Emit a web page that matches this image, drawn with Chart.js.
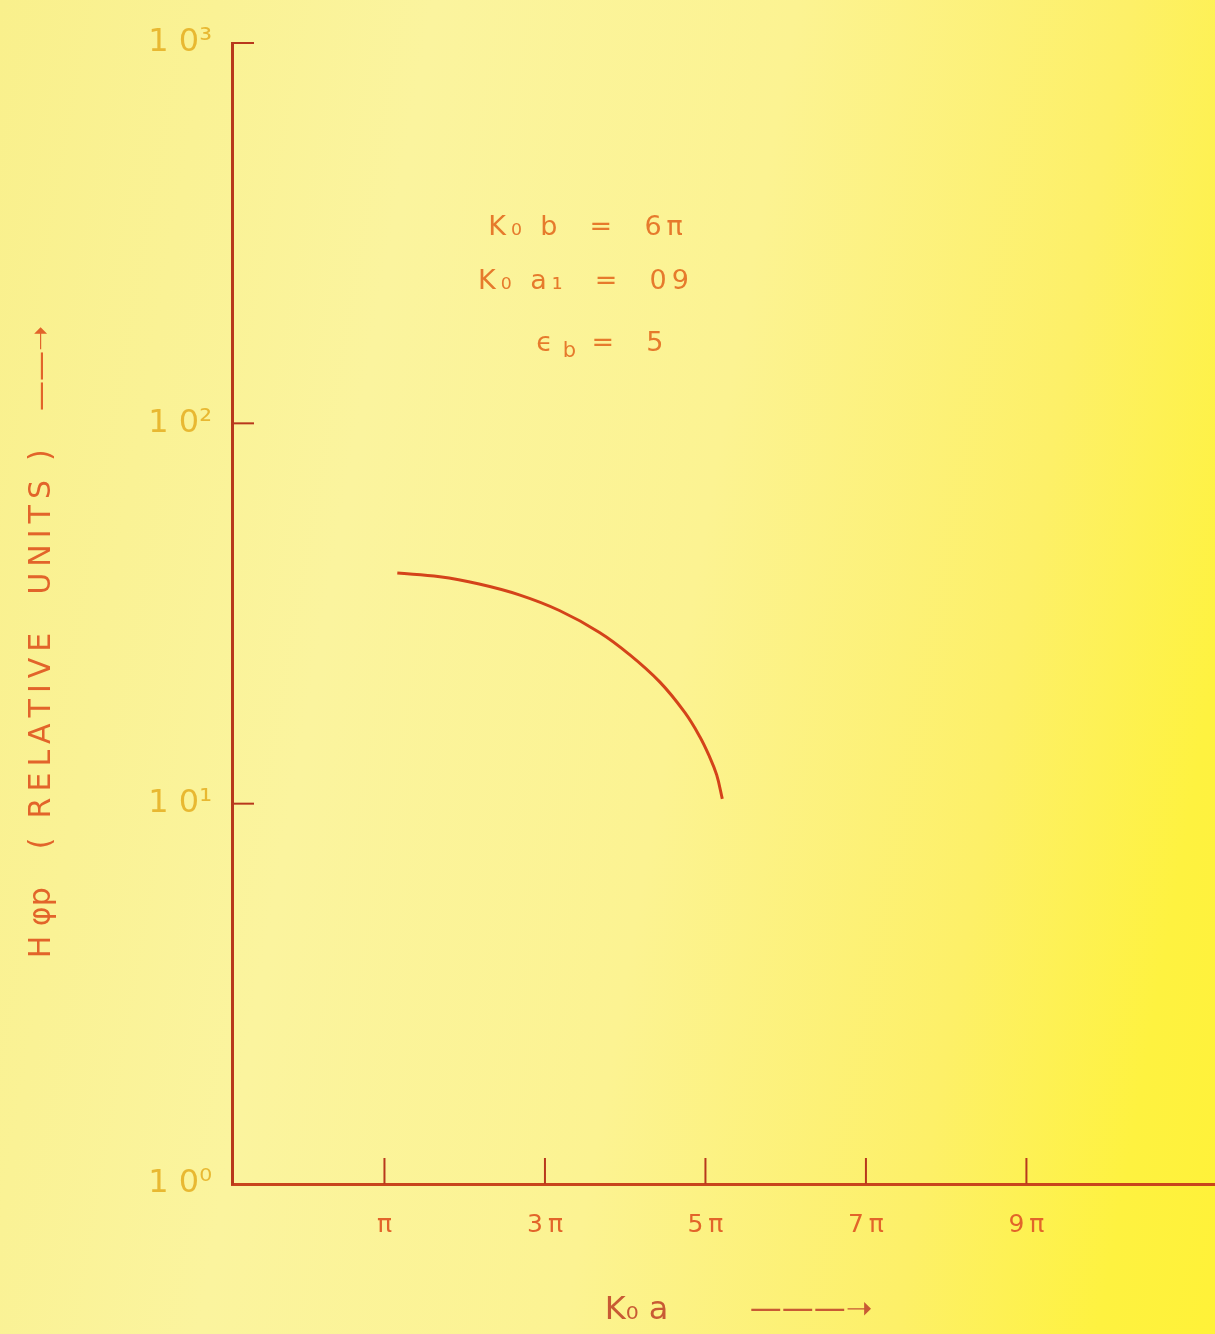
<!DOCTYPE html>
<html>
<head>
<meta charset="utf-8">
<script src="https://cdn.jsdelivr.net/npm/chart.js@4.4.1/dist/chart.umd.min.js"></script>
<style>
html,body{margin:0;padding:0;}
body{
width:1215px;height:1334px;overflow:hidden;
background:linear-gradient(100deg,#f9f08c 0%,#fbf49e 30%,#fcf392 55%,#fdf068 78%,#fef240 92%,#fff238 100%);
}
#wrap{position:relative;width:1215px;height:1334px;}
</style>
</head>
<body>
<div id="wrap"><canvas id="chart" width="1215" height="1334"></canvas></div>
<script>

// values (x in units of pi)
const kaValues = [1.16,1.69,2.18,2.68,3.18,3.68,4.05,4.43,4.74,4.93,5.05,5.14,5.21]
const hValues = [40.4,39.5,37.8,35.4,32.2,28.2,24.7,20.9,17.4,15.0,13.3,11.9,10.3]

const xTicks = [1,3,5,7,9]
const xTickLabels = ["π","3π","5π","7π","9π"]
const yTicks = [1,10,100,1000]
const yTickLabels = ["1 0⁰","1 0¹","1 0²","1 0³"]

const axisColor = "#b8381c"
const curveColor = "#d4431a"
const textColor = "#e2642a"

// spread letters apart, canvas titles have no letter spacing
const spread = s => s.split("").join("\u2009")

/* inner tick marks + parameter notes */
const extras = {
id:"extras",
afterDraw(chart){
const ctx = chart.ctx
const x = chart.scales.x
const y = chart.scales.y
const area = chart.chartArea

ctx.save()
ctx.strokeStyle = axisColor
ctx.lineWidth = 2
xTicks.forEach(v=>{
const px = x.getPixelForValue(v)
ctx.beginPath()
ctx.moveTo(px,area.bottom)
ctx.lineTo(px,area.bottom-26)
ctx.stroke()
})
yTicks.slice(1).forEach(v=>{
const py = y.getPixelForValue(v)
ctx.beginPath()
ctx.moveTo(area.left,py)
ctx.lineTo(area.left+22,py)
ctx.stroke()
})

// notes
ctx.fillStyle = "#e67a2c"
ctx.font = "27px 'DejaVu Sans'"
ctx.letterSpacing = "5px"
ctx.textAlign = "center"
ctx.textBaseline = "middle"
ctx.fillText("K₀ b  =  6π",588,228)
ctx.fillText("K₀ a₁  =  09",586,282)
// epsilon with subscript b
ctx.fillText("ϵ",547,344)
ctx.font = "21px 'DejaVu Sans'"
ctx.fillText("b",572,352)
ctx.font = "27px 'DejaVu Sans'"
ctx.fillText("=  5",630,344)
ctx.restore()
}
}

new Chart(document.getElementById("chart"),{

type:"line",

data:{
datasets:[{
data:kaValues.map((v,i)=>({x:v,y:hValues[i]})),
borderColor:curveColor,
borderWidth:3,
pointRadius:0,
fill:false,
tension:0.4
}]
},

options:{
responsive:false,
animation:false,
devicePixelRatio:1,
layout:{padding:{top:43,right:0,left:0,bottom:0}},
plugins:{legend:{display:false},tooltip:{enabled:false}},
scales:{
x:{
type:"linear",
min:-0.9,
max:11.35,
afterBuildTicks:s=>{s.ticks = xTicks.map(v=>({value:v}))},
afterFit:s=>{s.height = 150},
grid:{display:false,drawTicks:false},
border:{display:true,color:"#c8441c",width:3},
ticks:{
padding:26,
color:textColor,
font:{family:"DejaVu Sans",size:25},
callback:(v)=>spread(xTickLabels[xTicks.indexOf(v)])
},
title:{
display:true,
text:"\u00A0\u00A0\u00A0K₀ a\u00A0\u00A0\u00A0\u00A0\u00A0\u00A0\u00A0\u00A0———➝",
color:"#c85a34",
font:{family:"DejaVu Sans",size:32},
padding:{top:38}
}
},
y:{
type:"logarithmic",
min:1,
max:1000,
afterBuildTicks:s=>{s.ticks = yTicks.map(v=>({value:v}))},
afterFit:s=>{s.width = 232},
grid:{display:false,drawTicks:false},
border:{display:true,color:axisColor,width:3},
ticks:{
padding:20,
color:"#e8b832",
font:{family:"DejaVu Sans",size:32},
callback:(v)=>yTickLabels[yTicks.indexOf(v)]
},
title:{
display:true,
text:"H φp\u00A0\u00A0\u00A0\u00A0(\u00A0\u00A0" + spread("RELATIVE") + "\u00A0\u00A0\u00A0\u00A0" + spread("UNITS") + "\u00A0\u00A0)\u00A0\u00A0\u00A0\u00A0——➝" + "\u00A0".repeat(6),
color:textColor,
font:{family:"DejaVu Sans",size:30},
padding:{top:24,bottom:0}
}
}
}
},

plugins:[extras]

})
</script>
</body>
</html>
